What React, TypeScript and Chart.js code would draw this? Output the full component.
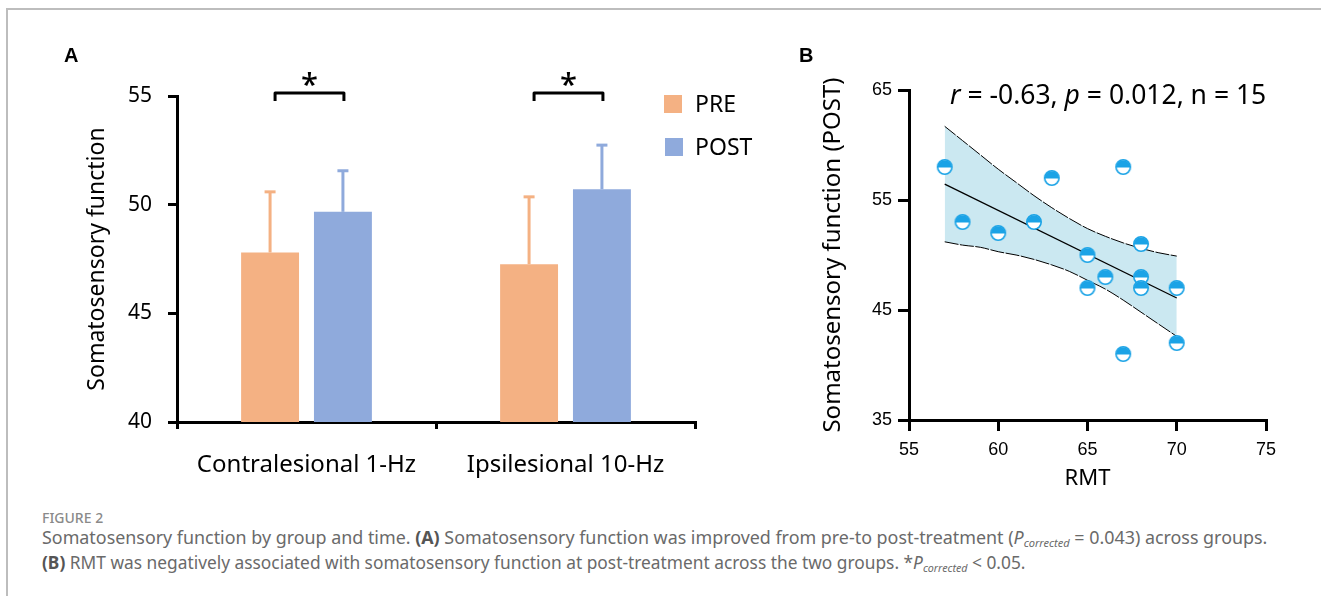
import React, { useEffect, useLayoutEffect, useRef, useState } from 'react';
import { Chart, registerables } from 'chart.js';

Chart.register(...registerables);

// ---------- Panel A data ----------
const CATEGORIES = ['Contralesional 1-Hz', 'Ipsilesional 10-Hz'];
const PRE_MEAN = [47.8, 47.26];
const POST_MEAN = [49.67, 50.71];
const PRE_ERR = [2.79, 3.1];
const POST_ERR = [1.89, 2.03];
const A_Y_MIN = 40;
const A_Y_MAX = 55;
const A_Y_STEP = 5;
const BRACKET_LEVEL = 55.14;

// ---------- Panel B data ----------
const RMT = [57, 58, 60, 62, 63, 65, 65, 66, 67, 67, 68, 68, 68, 70, 70];
const POST_SCORE = [58, 53, 52, 53, 57, 50, 47, 48, 58, 41, 51, 48, 47, 47, 42];
const FIT_X = [57, 70];
const FIT_Y = [56.45, 46.09];
const BAND_X = [57, 58, 59, 60, 61, 62, 63, 64, 65, 66, 67, 68, 69, 70];
const BAND_UPPER = [61.7, 60.4, 59.1, 57.8, 56.6, 55.4, 54.3, 53.3, 52.4, 51.7, 51.1, 50.6, 50.2, 49.9];
const BAND_LOWER = [51.2, 50.9, 50.7, 50.3, 50.0, 49.6, 49.1, 48.5, 47.7, 46.9, 45.9, 44.8, 43.7, 42.6];
const B_X_MIN = 55;
const B_X_MAX = 75;
const B_X_STEP = 5;
const B_Y_MIN = 35;
const B_Y_MAX = 65;
const B_Y_STEP = 10;

// ---------- styles ----------
const ORANGE = '#F4B183';
const BAR_BLUE = '#8FAADC';
const DOT_BLUE = '#1BA3E6';
const BAND = '#CBE8F1';
const SANS = '"Noto Sans", sans-serif';
const ARIAL = '"Liberation Sans", Arial, sans-serif';

function makeHalfDot(): HTMLCanvasElement {
  const c = document.createElement('canvas');
  const s = 18;
  c.width = s;
  c.height = s;
  const ctx = c.getContext('2d')!;
  const cx = 9, cy = 9, r = 7.2;
  ctx.fillStyle = '#fff';
  ctx.beginPath();
  ctx.arc(cx, cy, r, 0, Math.PI * 2);
  ctx.fill();
  ctx.fillStyle = DOT_BLUE;
  ctx.beginPath();
  ctx.arc(cx, cy + 0.5, r, Math.PI, 0);
  ctx.closePath();
  ctx.fill();
  ctx.strokeStyle = DOT_BLUE;
  ctx.lineWidth = 1.6;
  ctx.beginPath();
  ctx.arc(cx, cy, r, 0, Math.PI * 2);
  ctx.stroke();
  return c;
}

const errorBarsPlugin = {
  id: 'errorBars',
  afterDatasetsDraw(chart: any) {
    const ctx = chart.ctx;
    const y = chart.scales.y;
    [PRE_ERR, POST_ERR].forEach((errs, di) => {
      const meta = chart.getDatasetMeta(di);
      const color = di === 0 ? ORANGE : BAR_BLUE;
      const values = di === 0 ? PRE_MEAN : POST_MEAN;
      meta.data.forEach((bar: any, i: number) => {
        const top = y.getPixelForValue(values[i] + errs[i]);
        ctx.save();
        ctx.strokeStyle = color;
        ctx.lineWidth = 3;
        ctx.beginPath();
        ctx.moveTo(bar.x, bar.y);
        ctx.lineTo(bar.x, top);
        ctx.stroke();
        ctx.beginPath();
        ctx.moveTo(bar.x - 5.5, top);
        ctx.lineTo(bar.x + 5.5, top);
        ctx.stroke();
        ctx.restore();
      });
    });
  },
};

const bracketPlugin = {
  id: 'brackets',
  afterDraw(chart: any) {
    const ctx = chart.ctx;
    const y = chart.scales.y;
    const m0 = chart.getDatasetMeta(0);
    const m1 = chart.getDatasetMeta(1);
    const yp = y.getPixelForValue(BRACKET_LEVEL);
    CATEGORIES.forEach((_, i) => {
      const a = m0.data[i].x + 5;
      const b = m1.data[i].x + 1;
      ctx.save();
      ctx.strokeStyle = '#000';
      ctx.lineWidth = 3;
      ctx.lineJoin = 'round';
      ctx.beginPath();
      ctx.moveTo(a, yp + 8);
      ctx.lineTo(a, yp);
      ctx.lineTo(b, yp);
      ctx.lineTo(b, yp + 8);
      ctx.stroke();
      ctx.fillStyle = '#000';
      ctx.font = `500 31px ${SANS}`;
      ctx.textAlign = 'center';
      ctx.textBaseline = 'alphabetic';
      ctx.fillText('*', (a + b) / 2, yp + 2);
      ctx.restore();
    });
  },
};

const CAPTION_TARGET_1 = 1226;
const CAPTION_TARGET_2 = 984;

function useFit(target: number): [React.RefObject<HTMLDivElement>, number] {
  const ref = useRef<HTMLDivElement>(null);
  const [size, setSize] = useState(16);
  useLayoutEffect(() => {
    const el = ref.current;
    if (!el) return;
    const fs = parseFloat(getComputedStyle(el).fontSize);
    const w = el.getBoundingClientRect().width;
    if (w > 0) setSize(+(fs * target / w).toFixed(3));
  }, [target]);
  return [ref, size];
}

export default function App() {
  const refA = useRef<HTMLCanvasElement>(null);
  const refB = useRef<HTMLCanvasElement>(null);
  const [line1Ref, size1] = useFit(CAPTION_TARGET_1);
  const [line2Ref, size2] = useFit(CAPTION_TARGET_2);

  useEffect(() => {
    const chartA = new Chart(refA.current!, {
      type: 'bar',
      data: {
        labels: CATEGORIES,
        datasets: [
          { label: 'PRE', data: PRE_MEAN, backgroundColor: ORANGE, categoryPercentage: 0.5626, barPercentage: 0.795 },
          { label: 'POST', data: POST_MEAN, backgroundColor: BAR_BLUE, categoryPercentage: 0.5626, barPercentage: 0.795 },
        ],
      },
      options: {
        responsive: false,
        animation: false,
        devicePixelRatio: 1,
        layout: { padding: { left: 0, right: 105, top: 96, bottom: 0 } },
        plugins: { legend: { display: false }, tooltip: { enabled: false } },
        scales: {
          x: {
            grid: { display: true, drawOnChartArea: false, drawTicks: true, tickLength: 7, color: '#000', lineWidth: 3, offset: true },
            border: { display: true, color: '#000', width: 3 },
            ticks: { font: { family: SANS, size: 24 }, color: '#000', padding: 22, maxRotation: 0 },
            afterFit: (s: any) => { s.height = 78; },
          },
          y: {
            min: A_Y_MIN,
            max: A_Y_MAX,
            ticks: { stepSize: A_Y_STEP, font: { family: SANS, size: 21 }, color: '#000', padding: 16 },
            grid: { display: true, drawOnChartArea: false, drawTicks: true, tickLength: 9, color: '#000', lineWidth: 3 },
            border: { display: true, color: '#000', width: 3 },
            title: { display: true, text: 'Somatosensory function', color: '#000', font: { family: SANS, size: 23 }, padding: { top: 83.2, bottom: 0 } },
            afterFit: (s: any) => { s.width = 177; },
          },
        },
      },
      plugins: [errorBarsPlugin, bracketPlugin],
    } as any);

    const dot = makeHalfDot();
    const chartB = new Chart(refB.current!, {
      type: 'scatter',
      data: {
        datasets: [
          {
            type: 'scatter',
            label: 'points',
            data: RMT.map((x, i) => ({ x, y: POST_SCORE[i] })),
            pointStyle: dot,
            pointRadius: 8,
            order: 0,
          },
          {
            type: 'line',
            label: 'fit',
            data: FIT_X.map((x, i) => ({ x, y: FIT_Y[i] })),
            borderColor: '#000',
            borderWidth: 1.3,
            pointRadius: 0,
            fill: false,
            order: 1,
          },
          {
            type: 'line',
            label: 'upper',
            data: BAND_X.map((x, i) => ({ x, y: BAND_UPPER[i] })),
            borderColor: '#000',
            borderWidth: 1,
            borderDash: [14, 1.5],
            pointRadius: 0,
            cubicInterpolationMode: 'monotone',
            fill: '+1',
            backgroundColor: BAND,
            order: 2,
          },
          {
            type: 'line',
            label: 'lower',
            data: BAND_X.map((x, i) => ({ x, y: BAND_LOWER[i] })),
            borderColor: '#000',
            borderWidth: 1,
            borderDash: [14, 1.5],
            pointRadius: 0,
            cubicInterpolationMode: 'monotone',
            fill: false,
            order: 3,
          },
        ],
      },
      options: {
        responsive: false,
        animation: false,
        devicePixelRatio: 1,
        layout: { padding: { left: 0, right: 55, top: 90, bottom: 0 } },
        plugins: { legend: { display: false }, tooltip: { enabled: false }, filler: { drawTime: 'beforeDatasetsDraw' } },
        scales: {
          x: {
            type: 'linear',
            min: B_X_MIN,
            max: B_X_MAX,
            ticks: { stepSize: B_X_STEP, font: { family: ARIAL, size: 18 }, color: '#000', padding: 8 },
            grid: { display: true, drawOnChartArea: false, drawTicks: true, tickLength: 11, color: '#000', lineWidth: 3 },
            border: { display: true, color: '#000', width: 3 },
            title: { display: true, text: 'RMT', color: '#000', font: { family: SANS, size: 22 }, padding: { top: 0, bottom: 7.7 } },
            afterFit: (s: any) => { s.height = 80; },
          },
          y: {
            type: 'linear',
            min: B_Y_MIN,
            max: B_Y_MAX,
            ticks: { stepSize: B_Y_STEP, font: { family: ARIAL, size: 18 }, color: '#000', padding: 6 },
            grid: { display: true, drawOnChartArea: false, drawTicks: true, tickLength: 11, color: '#000', lineWidth: 3 },
            border: { display: true, color: '#000', width: 3 },
            title: { display: true, text: 'Somatosensory function (POST)', color: '#000', font: { family: SANS, size: 24 }, padding: { top: 18.6, bottom: 0 } },
            afterFit: (s: any) => { s.width = 109; },
          },
        },
      },
    } as any);

    return () => {
      chartA.destroy();
      chartB.destroy();
    };
  }, []);

  const abs = (left: number, top: number, extra: React.CSSProperties = {}): React.CSSProperties => ({
    position: 'absolute',
    left,
    top,
    whiteSpace: 'nowrap',
    ...extra,
  });

  const capTop = (baseline: number, size: number) => baseline - 0.888 * size;
  const sub: React.CSSProperties = { fontSize: '0.62em', fontStyle: 'italic', position: 'relative', top: '0.28em' };

  return (
    <div style={{ position: 'absolute', left: 0, top: 0, width: 1321, height: 596, overflow: 'hidden', background: '#fff' }}>
      <div style={{ position: 'absolute', left: 6, top: 8, width: 1400, height: 700, borderTop: '2px solid #bdbdbd', borderLeft: '2px solid #bdbdbd' }} />
      <canvas ref={refA} width={800} height={500} style={{ position: 'absolute', left: 0, top: 0, width: 800, height: 500 }} />
      <canvas ref={refB} width={521} height={500} style={{ position: 'absolute', left: 800, top: 0, width: 521, height: 500 }} />

      <div style={abs(64, 62 - 0.8465 * 20, { font: `bold 20px ${ARIAL}`, lineHeight: '20px', color: '#000' })}>A</div>
      <div style={abs(799, 62 - 0.8465 * 20, { font: `bold 20px ${ARIAL}`, lineHeight: '20px', color: '#000' })}>B</div>

      <div style={{ position: 'absolute', left: 664, top: 95, width: 18, height: 18, background: ORANGE }} />
      <div style={{ position: 'absolute', left: 665, top: 138, width: 18, height: 18, background: BAR_BLUE }} />
      <div style={abs(695, capTop(112, 23), { font: `23px ${SANS}`, lineHeight: '23px', color: '#000' })}>PRE</div>
      <div style={abs(695, capTop(155, 23), { font: `23px ${SANS}`, lineHeight: '23px', color: '#000' })}>POST</div>

      <div style={abs(950, capTop(105, 26.5), { font: `26.5px ${SANS}`, lineHeight: '26.5px', color: '#000' })}>
        <i>r</i> = -0.63, <i>p</i> = 0.012, n = 15
      </div>

      <div style={abs(42, capTop(523, 14), { font: `500 14px ${SANS}`, lineHeight: '14px', color: '#8a8a8a' })}>FIGURE 2</div>
      <div
        ref={line1Ref}
        style={abs(42, capTop(545, size1), { fontFamily: SANS, fontSize: size1, lineHeight: `${size1}px`, color: '#6a6a6a' })}
      >
        Somatosensory function by group and time. <b style={{ color: '#555', fontWeight: 700 }}>(A)</b> Somatosensory function was improved from pre-to post-treatment (<i>P</i>
        <span style={sub}>corrected</span> = 0.043) across groups.
      </div>
      <div
        ref={line2Ref}
        style={abs(42, capTop(569, size2), { fontFamily: SANS, fontSize: size2, lineHeight: `${size2}px`, color: '#6a6a6a' })}
      >
        <b style={{ color: '#555', fontWeight: 700 }}>(B)</b> RMT was negatively associated with somatosensory function at post-treatment across the two groups. *<i>P</i>
        <span style={sub}>corrected</span> &lt; 0.05.
      </div>
    </div>
  );
}
